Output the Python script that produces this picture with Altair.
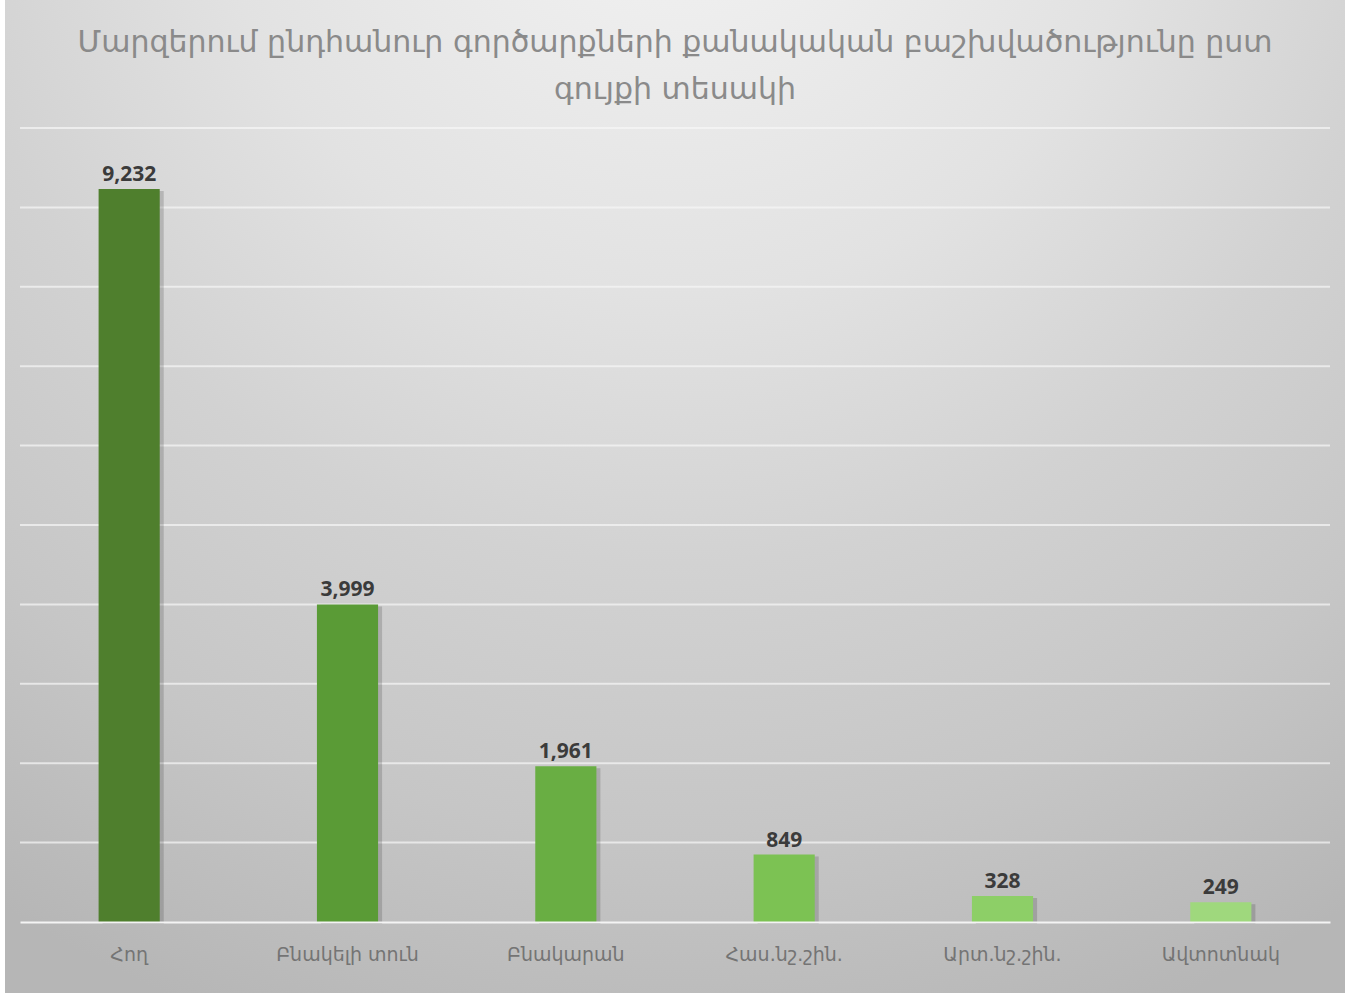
import altair as alt
import pandas as pd

categories = ["Հող", "Բնակելի տուն", "Բնակարան", "Հաս.նշ.շին.", "Արտ.նշ.շին.", "Ավտոտնակ"]
values = [9232, 3999, 1961, 849, 328, 249]
bar_colors = ["#4f7f2d", "#5a9b36", "#69ae43", "#7cc253", "#8dcf67", "#9fd87d"]
title_lines = ["Մարզերում ընդհանուր գործարքների քանակական բաշխվածությունը ըստ", "գույքի տեսակի"]
grid_values = [1000, 2000, 3000, 4000, 5000, 6000, 7000, 8000, 9000, 10000]

df = pd.DataFrame({"cat": categories, "val": values, "color": bar_colors})
gdf = pd.DataFrame({"g": grid_values})

W, H = 1310, 794
PAD_L, PAD_T = 20, 128

bg = alt.Chart(alt.Data(values=[{"a": 1}])).mark_rect(
    color={
        "gradient": "radial",
        "x1": 0.5, "y1": 0.0, "r1": 0.0,
        "x2": 0.5, "y2": 0.0, "r2": 1.0,
        "stops": [
            {"offset": 0.0, "color": "#f5f5f5"},
            {"offset": 0.35, "color": "#e2e2e2"},
            {"offset": 0.55, "color": "#d2d2d2"},
            {"offset": 0.75, "color": "#c6c6c6"},
            {"offset": 0.95, "color": "#b6b6b6"},
        ],
    }
).encode(
    x=alt.value(5 - PAD_L), x2=alt.value(1345 - PAD_L),
    y=alt.value(0 - PAD_T), y2=alt.value(993 - PAD_T),
)

yscale = alt.Scale(domain=[0, 10000], nice=False)

grid = alt.Chart(gdf).mark_rule(color="#f7f7f7", strokeWidth=2, opacity=0.7).encode(
    y=alt.Y("g:Q", scale=yscale, axis=None),
)

xenc = alt.X("cat:N", sort=categories, title=None,
             scale=alt.Scale(paddingInner=0.72, paddingOuter=0.36),
             axis=alt.Axis(labelAngle=0, labelFont="DejaVu Sans", labelFontSize=19,
                           labelColor="#747474", labelPadding=23, ticks=False,
                           domain=True, domainColor="#f4f4f4", domainWidth=2, grid=False,
                           zindex=1))
yenc = alt.Y("val:Q", title=None, scale=yscale, axis=None)

base = alt.Chart(df)

shadow = base.mark_bar(color="#3c3c3c", opacity=0.22, xOffset=4, yOffset=2).encode(
    x=xenc, y=yenc)

bars = base.mark_bar().encode(
    x=xenc, y=yenc,
    color=alt.Color("color:N", scale=None),
)

labels = base.mark_text(
    baseline="bottom", dy=-4, font="Open Sans", fontWeight="bold",
    fontSize=21, color="#3b3b3b"
).encode(
    x=alt.X("cat:N", sort=categories),
    y="val:Q",
    text=alt.Text("val:Q", format=",d"),
)

chart = alt.layer(bg, grid, shadow, bars, labels).properties(
    width=W, height=H,
    padding={"left": PAD_L, "top": PAD_T, "right": 1351 - PAD_L - W, "bottom": 995 - PAD_T - H},
    autosize=alt.AutoSizeParams(type="none"),
    title=alt.TitleParams(
        text=title_lines, anchor="middle", frame="group", font="DejaVu Sans", fontSize=30,
        fontWeight="normal", color="#8a8a8a", lineHeight=47, offset=-105,
    ),
).configure_view(stroke=None).configure(background="white")

chart.save("out.html", embed_options={"renderer": "svg", "actions": False})
